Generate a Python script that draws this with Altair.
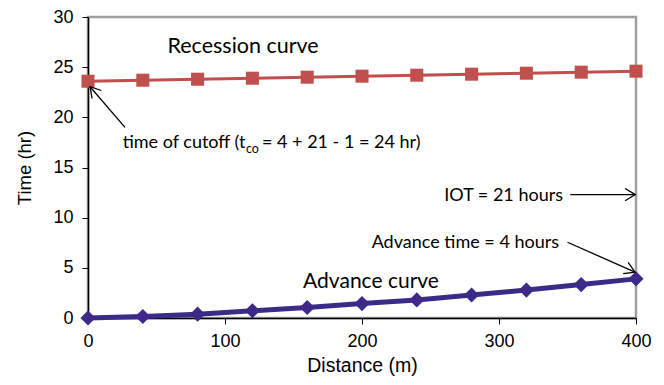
import math
import altair as alt
import pandas as pd

distance = [0, 40, 80, 120, 160, 200, 240, 280, 320, 360, 400]
advance = [0, 0.15, 0.38, 0.72, 1.05, 1.44, 1.8, 2.29, 2.78, 3.33, 3.9]
recession = [23.6, 23.7, 23.8, 23.9, 24.0, 24.1, 24.2, 24.3, 24.4, 24.5, 24.6]

# annotation texts (data units)
label_text = ["Recession curve", "Advance curve", "IOT = 21 hours", "Advance time = 4 hours"]
label_x = [58, 157, 346.7, 343.8]
label_y = [27.0, 3.55, 12.2, 7.45]
label_align = ["left", "left", "right", "right"]
label_size = [21.5, 21, 18, 18]

cut_parts = ["time of cutoff (t", "co", "= 4 + 21 - 1 = 24 hr)"]
cut_x = [115.0, 115.3, 127.0]
cut_y = [17.4, 16.85, 17.4]
cut_align = ["right", "left", "left"]
cut_size = [18, 12.5, 18]

arrow_x1 = [27, 352, 350]
arrow_y1 = [19.0, 12.3, 7.55]
arrow_x2 = [1.5, 399.5, 399.3]
arrow_y2 = [23.05, 12.3, 4.57]

W, H = 548, 301
XMAX, YMAX = 400, 30

df = pd.DataFrame({"d": distance, "adv": advance, "rec": recession})
txt = pd.DataFrame({"t": label_text + cut_parts, "x": label_x + cut_x, "y": label_y + cut_y,
                    "a": label_align + cut_align, "s": label_size + cut_size})
angles = []
for a, b, c, d in zip(arrow_x1, arrow_y1, arrow_x2, arrow_y2):
    dx = (c - a) * W / XMAX
    dy = -(d - b) * H / YMAX
    angles.append(math.degrees(math.atan2(dy, dx)) % 360)
arr = pd.DataFrame({"x1": arrow_x1, "y1": arrow_y1, "x2": arrow_x2, "y2": arrow_y2, "ang": angles})

xs = alt.Scale(domain=[0, XMAX], nice=False)
ys = alt.Scale(domain=[0, YMAX], nice=False)

xaxis = alt.Axis(values=[0, 100, 200, 300, 400], title="Distance (m)", grid=False,
                 tickSize=6, labelPadding=8, titlePadding=6, titleFontSize=19.5, labelFlush=False)
yaxis = alt.Axis(values=[0, 5, 10, 15, 20, 25, 30], title="Time (hr)", grid=False,
                 tickSize=6, labelPadding=9, titlePadding=18, titleFontSize=18.5, labelFlush=False)

base = alt.Chart(df)
rec_line = base.mark_line(color="#C0504D", strokeWidth=3).encode(
    x=alt.X("d:Q", scale=xs, axis=xaxis), y=alt.Y("rec:Q", scale=ys, axis=yaxis))
rec_pts = base.mark_point(shape="square", filled=True, opacity=1, color="#C0504D", size=170).encode(
    x=alt.X("d:Q", scale=xs), y=alt.Y("rec:Q", scale=ys))
adv_line = base.mark_line(color="#3C2A89", strokeWidth=5).encode(
    x=alt.X("d:Q", scale=xs), y=alt.Y("adv:Q", scale=ys))
adv_pts = base.mark_point(shape="diamond", filled=True, opacity=1, color="#3C2A89", size=230).encode(
    x=alt.X("d:Q", scale=xs), y=alt.Y("adv:Q", scale=ys))

text_layers = []
for al in ["left", "right"]:
    text_layers.append(
        alt.Chart(txt).transform_filter(alt.datum.a == al).mark_text(
            font="Lato", baseline="middle", color="black", align=al).encode(
            x=alt.X("x:Q", scale=xs), y=alt.Y("y:Q", scale=ys), text="t:N",
            size=alt.Size("s:Q", scale=None, legend=None)))

shafts = alt.Chart(arr).mark_rule(color="black", strokeWidth=1.3).encode(
    x=alt.X("x1:Q", scale=xs), y=alt.Y("y1:Q", scale=ys), x2="x2:Q", y2="y2:Q")
heads = alt.Chart(arr).mark_point(shape="M-1,-0.6L0,0L-1,0.6", filled=False, color="black",
                                   strokeWidth=1.3, size=420, opacity=1).encode(
    x=alt.X("x2:Q", scale=xs), y=alt.Y("y2:Q", scale=ys), angle=alt.Angle("ang:Q", scale=None))

chart = alt.layer(rec_line, adv_line, rec_pts, adv_pts, shafts, heads, *text_layers).properties(
    width=W, height=H, autosize=alt.AutoSizeParams(type="none"),
    padding={"left": 80, "top": 9, "right": 20, "bottom": 59}
).configure_view(stroke="#a0a0a0", strokeWidth=2.5).configure_axis(
    labelFont="Liberation Sans", labelFontSize=18, labelColor="black",
    titleFont="Liberation Sans", titleFontSize=18, titleFontWeight="normal", titleColor="black",
    domainColor="black", tickColor="black", domainWidth=1.5, tickWidth=1)

chart.save("out.html", embed_options={"renderer": "svg", "actions": False})
